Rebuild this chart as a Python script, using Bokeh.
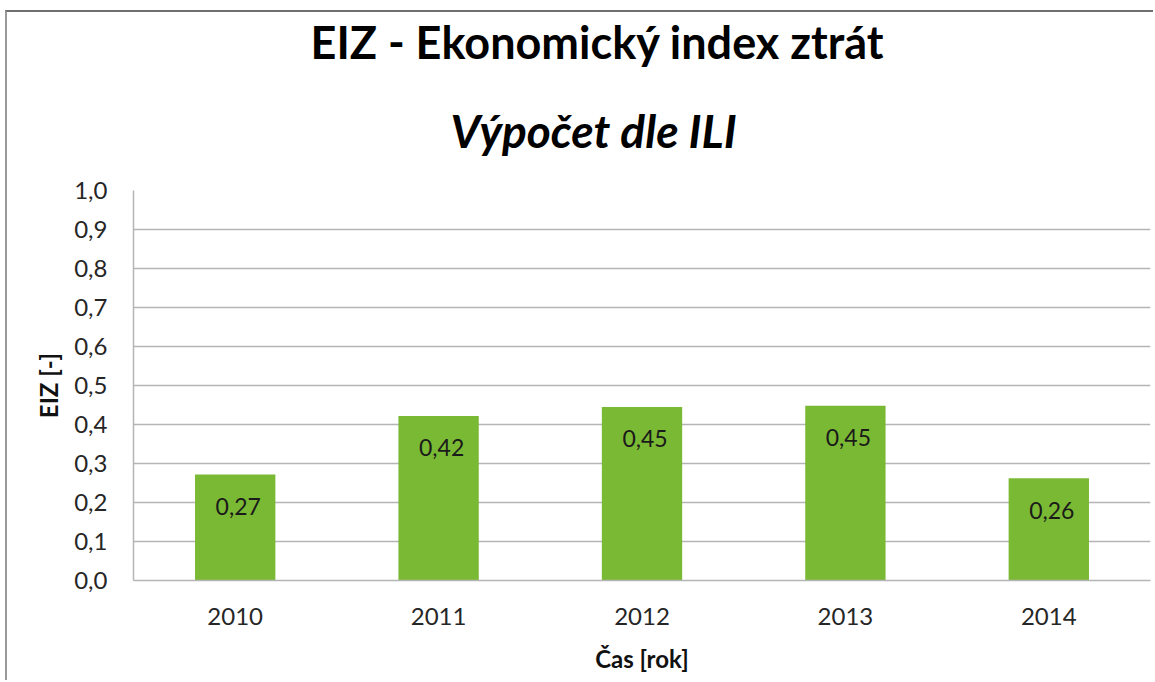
from bokeh.plotting import figure
from bokeh.models import (ColumnDataSource, FactorRange, Range1d, SingleIntervalTicker,
                          CustomJSTickFormatter, Title)
from bokeh.core.properties import value
from bokeh.embed import file_html
from bokeh.resources import INLINE

years = ["2010", "2011", "2012", "2013", "2014"]
eiz = [0.272, 0.422, 0.445, 0.448, 0.262]
eiz_labels = ["0,27", "0,42", "0,45", "0,45", "0,26"]
title_line1 = "EIZ - Ekonomický index ztrát"
title_line2 = "Výpočet dle ILI"
x_label = "Čas [rok]"
y_label = "EIZ [-]"

FONT = "Lato"

src = ColumnDataSource(dict(x=years, y=eiz, lab=eiz_labels))

p = figure(width=1148, height=670, x_range=FactorRange(*years, range_padding=0),
           y_range=Range1d(0, 1.0), output_backend="svg", toolbar_location=None,
           min_border_left=126, min_border_right=5, min_border_top=168, min_border_bottom=102)
p.background_fill_color = "white"
p.border_fill_color = "white"
p.outline_line_color = None
p.styles = {"margin-left": "5px", "margin-top": "10px",
            "border-top": "2px solid #6f6f6f", "border-left": "2px solid #9a9a9a"}

p.vbar(x="x", top="y", width=0.395, source=src, fill_color="#7AB934", line_color=None)
p.text(x="x", y="y", text="lab", source=src, text_align="center", text_baseline="middle",
       y_offset=32, x_offset=3, text_font=value(FONT), text_font_size="23px", text_color="#1a1a1a")

p.xgrid.grid_line_color = None
p.ygrid.grid_line_color = "#b5b5b5"
p.ygrid.grid_line_width = 1.5

p.yaxis.ticker = SingleIntervalTicker(interval=0.1)
p.yaxis.formatter = CustomJSTickFormatter(code="return tick.toFixed(1).replace('.', ',');")
for ax in (p.xaxis[0], p.yaxis[0]):
    ax.axis_line_color = "#b5b5b5"
    ax.axis_line_width = 1.5
    ax.major_tick_line_color = None
    ax.minor_tick_line_color = None
    ax.major_label_text_font = FONT
    ax.major_label_text_font_size = "24px"
    ax.major_label_text_color = "#262626"
    ax.axis_label_text_font = FONT
    ax.axis_label_text_font_style = "bold"
    ax.axis_label_text_font_size = "24px"
    ax.axis_label_text_color = "#111111"
p.xaxis.major_label_standoff = 21
p.yaxis.major_label_standoff = 20
p.xaxis.axis_label = x_label
p.yaxis.axis_label = y_label
p.xaxis.axis_label_standoff = 16
p.yaxis.axis_label_standoff = 8

t2 = Title(text=title_line2, align="left", offset=317, standoff=65,
           text_font=FONT, text_font_size="46px", text_font_style="bold italic",
           text_color="black")
t1 = Title(text=title_line1, align="left", offset=177, standoff=0,
           text_font=FONT, text_font_size="45px", text_font_style="bold",
           text_color="black")
p.add_layout(t2, "above")
p.add_layout(t1, "above")

open("out.html", "w").write(file_html(p, INLINE))
